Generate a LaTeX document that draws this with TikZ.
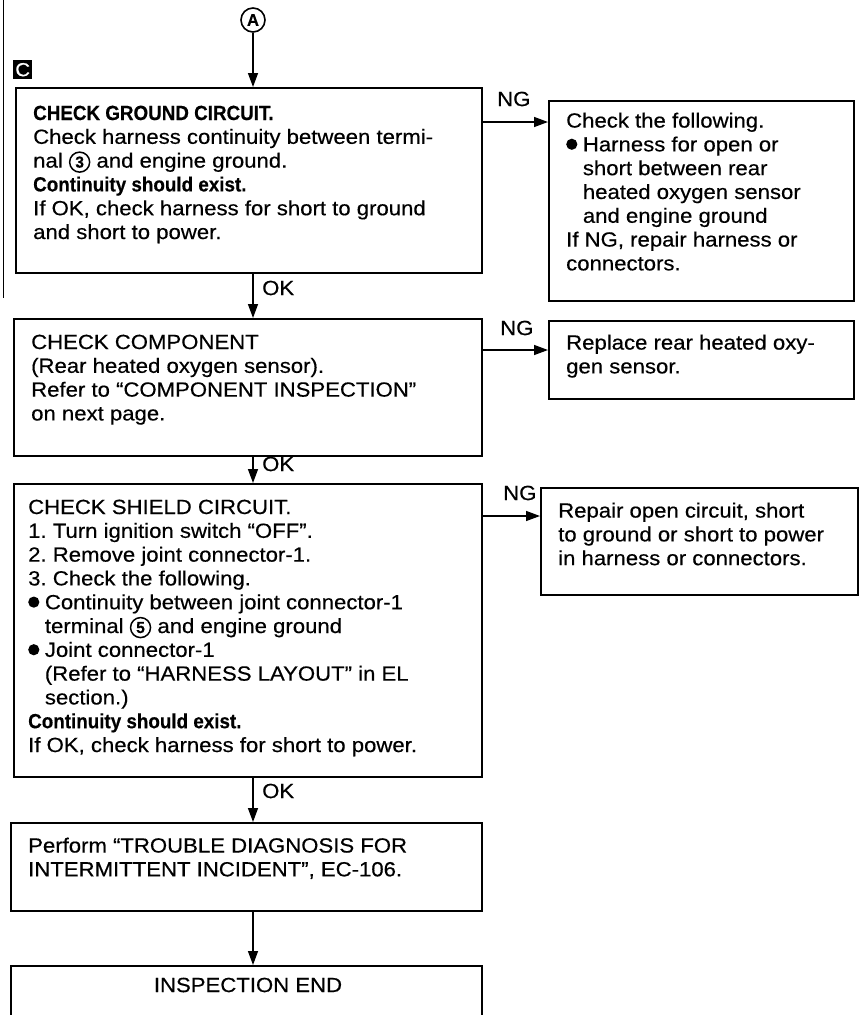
\documentclass[tikz,border=0pt]{standalone}
\usepackage{graphicx}
\usepackage{fontspec}
\setmainfont[FakeStretch=1.08,FakeBold=0.4]{Liberation Sans}
\usetikzlibrary{arrows.meta,calc}
\newcommand{\B}[1]{\scalebox{0.85}[1]{\bfseries #1}}
\newcommand{\cnum}[1]{\tikz[baseline=(cn.base)]\node[circle,draw,line width=1.5pt,minimum size=20pt,inner sep=0pt,font=\fontsize{16}{16}\selectfont\bfseries](cn){\scalebox{0.9}[1]{#1}};}
\newcommand{\bul}{\raisebox{1.5pt}{\tikz\fill (0,0) circle (5.6pt);}\hspace{5.5pt}}
\newcommand{\ind}{\hspace{16.7pt}}
\frenchspacing
\begin{document}
\begin{tikzpicture}[x=1pt,y=-1pt,
  frame/.style={draw, line width=1.6pt, inner sep=0pt, anchor=north west},
  txt/.style={anchor=north west, align=left, inner sep=0pt, font=\fontsize{20.5}{23.8}\selectfont},
  arr/.style={line width=1.4pt, -{Triangle[length=14pt,width=10pt]}},
  lbl/.style={inner sep=0pt, anchor=west, font=\fontsize{20.5}{20.5}\selectfont}]
\clip (0,0) rectangle (862,1015);
\fill[white] (0,0) rectangle (862,1015);
% page margin line
\draw[line width=1pt] (3,0) -- (3,298);
% C marker
\node[fill=black, text=white, minimum width=19pt, minimum height=19pt, inner sep=0pt, anchor=north west, font=\fontsize{19}{19}\selectfont] (cm) at (13,60) {C};
% A connector
\node[circle, draw, line width=1.6pt, minimum size=24pt, inner sep=0pt, font=\fontsize{17}{17}\selectfont\bfseries] (A) at (253,20) {\scalebox{0.9}[1]{A}};
% boxes
\node[frame, minimum width=466pt, minimum height=185pt] (b1) at (15,87) {};
\node[frame, minimum width=305pt, minimum height=200pt] (b2) at (548,100) {};
\node[frame, minimum width=468pt, minimum height=137pt] (b3) at (13,318) {};
\node[frame, minimum width=305pt, minimum height=78pt] (b4) at (548,320) {};
\node[frame, minimum width=468pt, minimum height=293pt] (b5) at (13,483) {};
\node[frame, minimum width=317pt, minimum height=107pt] (b6) at (540,487) {};
\node[frame, minimum width=471pt, minimum height=88pt] (b7) at (10,822) {};
\node[frame, minimum width=471pt, minimum height=80pt] (b8) at (10,965) {};
% texts
\node[txt] (t1) at (33,105.5) {\B{CHECK GROUND CIRCUIT.}\\
Check harness continuity between termi-\\
nal \cnum{3} and engine ground.\\
\B{Continuity should exist.}\\
If OK, check harness for short to ground\\
and short to power.};
\node[txt] (t2) at (566,112.5) {Check the following.\\
\bul Harness for open or\\
\ind short between rear\\
\ind heated oxygen sensor\\
\ind and engine ground\\
If NG, repair harness or\\
connectors.};
\node[txt] (t3) at (31,334.5) {CHECK COMPONENT\\
(Rear heated oxygen sensor).\\
Refer to “COMPONENT INSPECTION”\\
on next page.};
\node[txt] (t4) at (566,334.5) {Replace rear heated oxy-\\
gen sensor.};
\node[txt] (t5) at (28,499.5) {CHECK SHIELD CIRCUIT.\\
1. Turn ignition switch “OFF”.\\
2. Remove joint connector-1.\\
3. Check the following.\\
\bul Continuity between joint connector-1\\
\ind terminal \cnum{5} and engine ground\\
\bul Joint connector-1\\
\ind (Refer to “HARNESS LAYOUT” in EL\\
\ind section.)\\
\B{Continuity should exist.}\\
If OK, check harness for short to power.};
\node[txt] (t6) at (558,502.5) {Repair open circuit, short\\
to ground or short to power\\
in harness or connectors.};
\node[txt] (t7) at (28,837.5) {Perform “TROUBLE DIAGNOSIS FOR\\
INTERMITTENT INCIDENT”, EC-106.};
\node[font=\fontsize{20.5}{20.5}\selectfont, inner sep=0pt] (t8) at (248,985) {INSPECTION END};
% connectors
\draw[arr] (A) -- (A |- b1.north);
\draw[arr] (b1.south -| A) -- (b3.north -| A);
\draw[arr] (b3.south -| A) -- (b5.north -| A);
\draw[arr] (b5.south -| A) -- (b7.north -| A);
\draw[arr] (b7.south -| A) -- (b8.north -| A);
\coordinate (n1) at (0,122);
\coordinate (n3) at (0,350);
\coordinate (n5) at (0,516);
\draw[arr] (n1 -| b1.east) -- (n1 -| b2.west);
\draw[arr] (n3 -| b3.east) -- (n3 -| b4.west);
\draw[arr] (n5 -| b5.east) -- (n5 -| b6.west);
% labels
\node[lbl] (ng1) at (497,99) {NG};
\node[lbl] (ng3) at (500,328) {NG};
\node[lbl] (ng5) at (503,493) {NG};
\node[lbl] (ok1) at (262,288) {OK};
\node[lbl] (ok3) at (262,464) {OK};
\node[lbl] (ok5) at (262,791) {OK};
\end{tikzpicture}
\end{document}
